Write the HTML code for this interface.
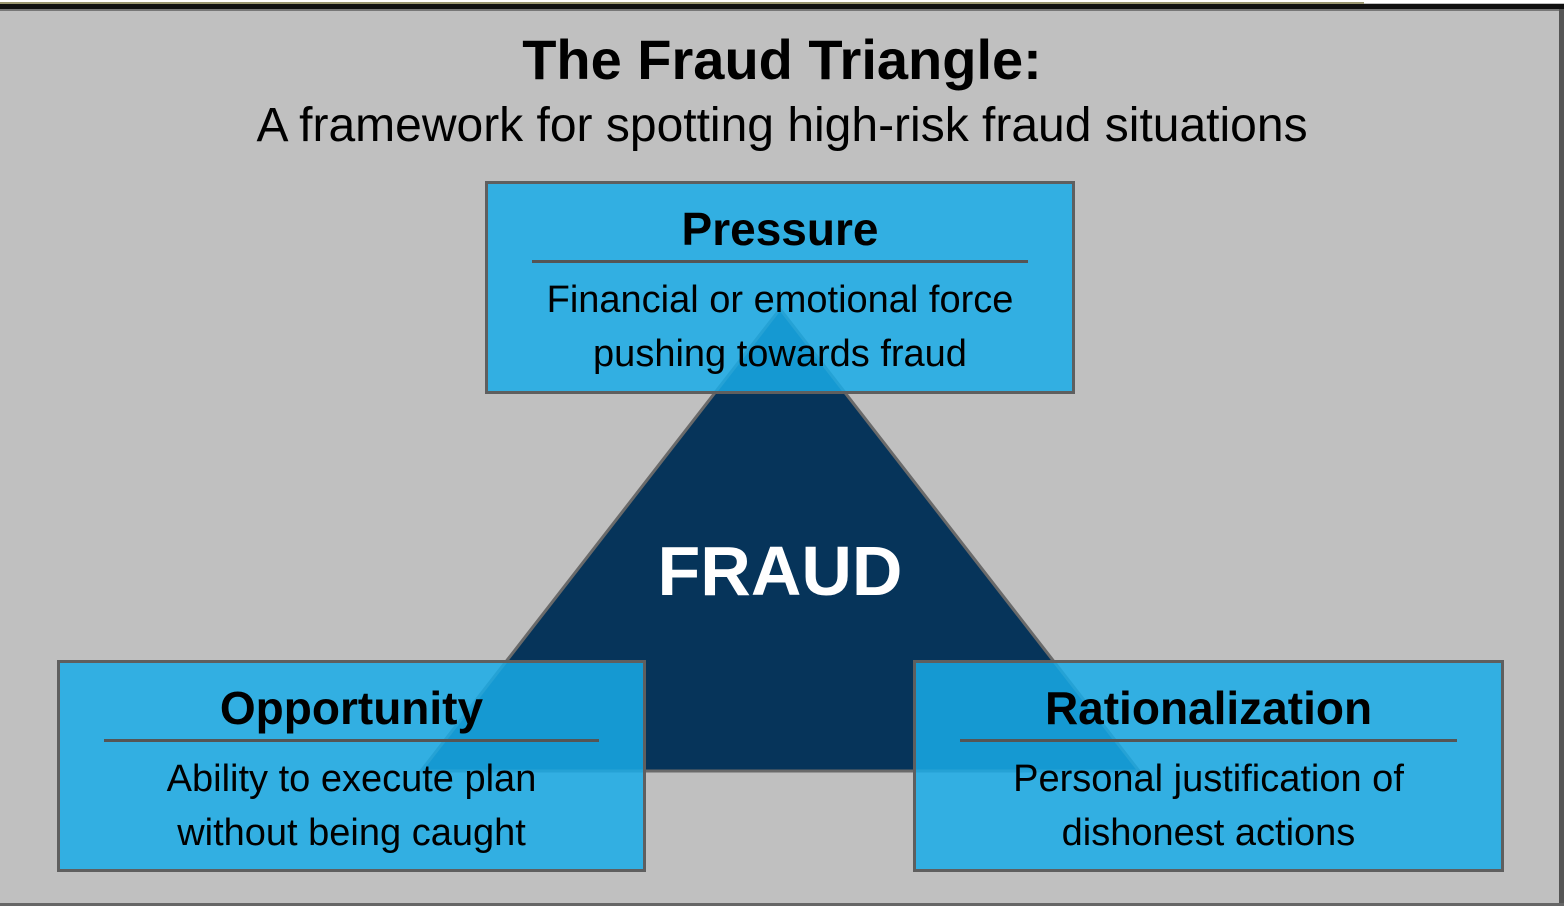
<!DOCTYPE html>
<html><head><style>
body{margin:0;width:1564px;height:906px;overflow:hidden;background:#c0c0c0;font-family:"Liberation Sans",Arial,sans-serif;}
.t{position:absolute;left:0;width:1564px;text-align:center;color:#000;white-space:nowrap}
.box{position:absolute;background:rgba(25,172,232,0.85);border:3px solid #5f5f5f;box-sizing:border-box;text-align:center;color:#000}
.box h2{margin:0;font-size:46px;font-weight:bold;line-height:50px;padding-top:20px}
.box hr{border:0;height:3px;background:#555;margin:6px 44px 10px}
.box p{margin:0;font-size:38px;line-height:54px}
</style></head><body>
<div style="position:absolute;left:0;top:0;width:1564px;height:3px;background:#fff"></div>
<div style="position:absolute;left:0;top:2px;width:1364px;height:2px;background:#9a9670"></div>
<div style="position:absolute;left:0;top:4px;width:1564px;height:5px;background:#111"></div>
<div style="position:absolute;left:0;top:9px;width:1564px;height:2px;background:#777"></div>
<div style="position:absolute;left:1559px;top:9px;width:5px;height:897px;background:#555"></div>
<div style="position:absolute;left:0;top:903px;width:1564px;height:3px;background:#666"></div>
<div class="t" style="top:28px;font-size:56px;font-weight:bold;line-height:64px">The Fraud Triangle:</div>
<div class="t" style="top:98px;font-size:48px;line-height:56px">A framework for spotting high-risk fraud situations</div>
<svg style="position:absolute;left:0;top:0" width="1564" height="906">
<polygon points="780,309 421,771 1139,771" fill="#06345a" stroke="#6a6a6a" stroke-width="3"/>
<text x="780" y="595" text-anchor="middle" font-family="Liberation Sans, Arial, sans-serif" font-size="70" font-weight="bold" fill="#fff">FRAUD</text>
</svg>
<div class="box" style="left:485px;top:181px;width:590px;height:213px"><h2>Pressure</h2><hr><p>Financial or emotional force<br>pushing towards fraud</p></div>
<div class="box" style="left:57px;top:660px;width:589px;height:212px"><h2>Opportunity</h2><hr><p>Ability to execute plan<br>without being caught</p></div>
<div class="box" style="left:913px;top:660px;width:591px;height:212px"><h2>Rationalization</h2><hr><p>Personal justification of<br>dishonest actions</p></div>
</body></html>
